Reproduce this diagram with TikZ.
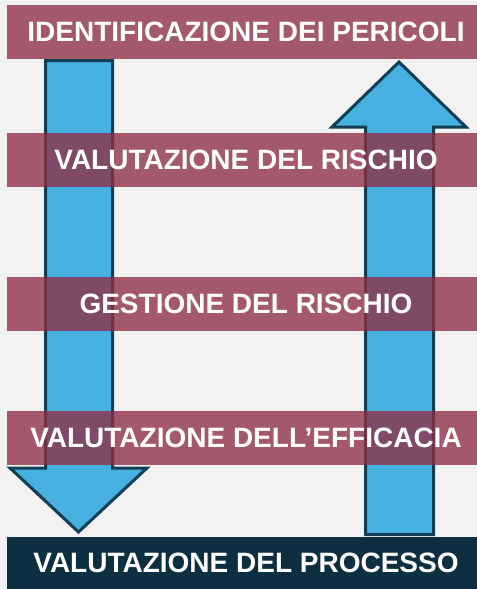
\documentclass[tikz,border=0pt]{standalone}
\usepackage{fontspec}
\setmainfont{Liberation Sans}
\usetikzlibrary{positioning}
\definecolor{nbg}{HTML}{F2F2F2}
\definecolor{nm}{HTML}{8E2E46}
\definecolor{nn}{HTML}{0C2F42}
\definecolor{nc}{HTML}{46B0E1}
\definecolor{nd}{HTML}{123F56}

\begin{document}
\begin{tikzpicture}[x=0.75pt,y=-0.75pt,
  band/.style={rectangle,fill=nm,fill opacity=0.78,text opacity=1,text=white,minimum width=352.5pt,minimum height=40.5pt,inner sep=0pt,font=\fontsize{21}{21}\selectfont\bfseries},
  lastband/.style={band,fill=nn,fill opacity=1,minimum height=39pt},
  flow/.style={fill=nc,draw=nd,line width=2.25pt,line join=miter}]
\fill[nbg](0,0)rectangle(477,589);
% frecce
\draw[flow](45.5,60.5)--(112.5,60.5)--(112.5,468)--(147,468)--(78.5,532)--(10,468)--(45.5,468)--cycle;
\draw[flow](365.5,534.5)--(433.5,534.5)--(433.5,127)--(466,127)--(399,62)--(332,127)--(365.5,127)--cycle;
% fasce
\node[band](ident) at (242,32){\hspace*{6pt}IDENTIFICAZIONE DEI PERICOLI};
\node[band](valrisk) at (242,160){\hspace*{6pt}VALUTAZIONE DEL RISCHIO};
\node[band](gest) at (242,304){\hspace*{6pt}GESTIONE DEL RISCHIO};
\node[band](eff) at (242,438){\hspace*{6pt}VALUTAZIONE DELL’EFFICACIA};
\node[lastband](proc) at (242,563){\hspace*{6pt}VALUTAZIONE DEL PROCESSO};
\end{tikzpicture}
\end{document}
